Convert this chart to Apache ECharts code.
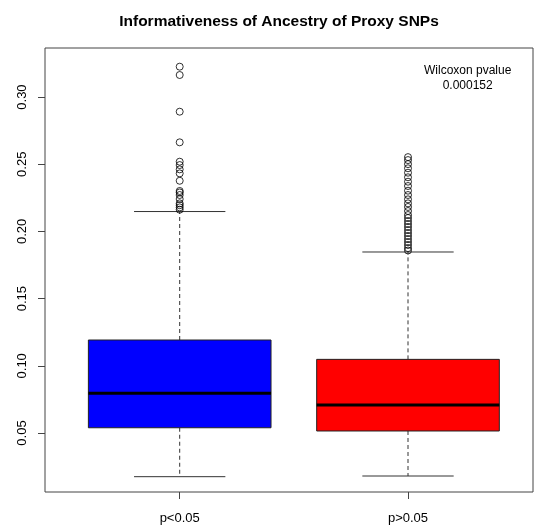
<!DOCTYPE html>
<html>
<head>
    <meta charset="utf-8">
    <script src="https://cdn.jsdelivr.net/npm/echarts@6/dist/echarts.min.js"></script>
    <style>
        html, body { margin: 0; padding: 0; background: #fff; }
        #main { width: 535px; height: 530px; }
    </style>
</head>
<body>
<div id="main"></div>
<script type="text/javascript">
    // groups and box statistics: [lower whisker, Q1, median, Q3, upper whisker]
    var categories = ['p<0.05', 'p>0.05'];
    var boxStats = [
        [0.0175, 0.0539, 0.0795, 0.1192, 0.2148],
        [0.0180, 0.0515, 0.0708, 0.1048, 0.1847]
    ];
    var boxColors = ['#0000ff', '#ff0000'];

    // outliers
    var outliers1 = [0.3226, 0.3164, 0.2891, 0.2663, 0.2519, 0.2494, 0.2462, 0.2432,
        0.2377, 0.2301, 0.2290, 0.2271, 0.2241, 0.2209, 0.2195, 0.2179, 0.2162];
    var outliers2 = [0.2553, 0.2531, 0.2501, 0.2470, 0.2437, 0.2403, 0.2370, 0.2338,
        0.2303, 0.2271, 0.2239, 0.2209, 0.2182, 0.2152, 0.2122, 0.2100, 0.2077,
        0.2055, 0.2033, 0.2010, 0.1988, 0.1966, 0.1943, 0.1921, 0.1899, 0.1876, 0.1858];

    var yTicks = [0.05, 0.10, 0.15, 0.20, 0.25, 0.30];
    var pvalueText = 'Wilcoxon pvalue\n0.000152';

    var myChart = echarts.init(document.getElementById('main'));

    var boxData = [];
    for (var i = 0; i < boxStats.length; i++) {
        boxData.push([i + 1].concat(boxStats[i]));
    }
    var outlierData = [];
    outliers1.forEach(function (v) { outlierData.push([1, v]); });
    outliers2.forEach(function (v) { outlierData.push([2, v]); });

    function renderBox(params, api) {
        var x = api.value(0);
        var lo = api.coord([x, api.value(1)]);
        var q1 = api.coord([x, api.value(2)]);
        var med = api.coord([x, api.value(3)]);
        var q3 = api.coord([x, api.value(4)]);
        var hi = api.coord([x, api.value(5)]);
        var half = api.size([0.4, 0])[0];
        var cx = lo[0];
        var dash = {stroke: '#333', lineWidth: 1, lineDash: [4, 3]};
        var solid = {stroke: '#333', lineWidth: 1};
        return {
            type: 'group',
            children: [
                {type: 'line', shape: {x1: cx, y1: q1[1], x2: cx, y2: lo[1]}, style: dash},
                {type: 'line', shape: {x1: cx, y1: q3[1], x2: cx, y2: hi[1]}, style: dash},
                {type: 'line', shape: {x1: cx - half / 2, y1: lo[1], x2: cx + half / 2, y2: lo[1]}, style: solid},
                {type: 'line', shape: {x1: cx - half / 2, y1: hi[1], x2: cx + half / 2, y2: hi[1]}, style: solid},
                {type: 'rect', shape: {x: cx - half, y: q3[1], width: half * 2, height: q1[1] - q3[1]},
                    style: {fill: boxColors[params.dataIndex], stroke: '#222', lineWidth: 1}},
                {type: 'line', shape: {x1: cx - half, y1: med[1], x2: cx + half, y2: med[1]},
                    style: {stroke: '#000', lineWidth: 3}}
            ]
        };
    }

    var option = {
        animation: false,
        backgroundColor: '#fff',
        textStyle: {fontFamily: 'Liberation Sans'},
        title: {
            text: 'Informativeness of Ancestry of Proxy SNPs',
            left: 274,
            textAlign: 'center',
            top: 9,
            textStyle: {fontSize: 15.5, fontWeight: 'bold', color: '#000', fontFamily: 'Liberation Sans'}
        },
        graphic: [{
            type: 'text',
            left: 424,
            top: 63,
            style: {
                text: pvalueText,
                textAlign: 'center',
                fill: '#000',
                font: '12px "Liberation Sans"',
                lineHeight: 15
            }
        }],
        grid: {
            left: 45,
            right: 2,
            top: 48,
            bottom: 38,
            show: true,
            borderColor: '#444',
            borderWidth: 1,
            backgroundColor: 'transparent'
        },
        xAxis: {
            type: 'value',
            min: 0.41,
            max: 2.5475,
            axisLine: {show: false},
            splitLine: {show: false},
            axisTick: {show: true, length: 7, customValues: [1, 2], lineStyle: {color: '#444'}},
            axisLabel: {
                customValues: [1, 2],
                margin: 20,
                fontSize: 13,
                color: '#000',
                formatter: function (v) { return categories[Math.round(v) - 1]; }
            }
        },
        yAxis: {
            type: 'value',
            min: 0.0061,
            max: 0.3365,
            axisLine: {show: false},
            splitLine: {show: false},
            axisTick: {show: true, length: 7, customValues: yTicks, lineStyle: {color: '#444'}},
            axisLabel: {
                customValues: yTicks,
                rotate: 90,
                margin: 16,
                fontSize: 13,
                color: '#000',
                formatter: function (v) { return v.toFixed(2); }
            }
        },
        series: [
            {
                type: 'custom',
                renderItem: renderBox,
                encode: {x: 0, y: [1, 2, 3, 4, 5]},
                data: boxData,
                z: 2
            },
            {
                type: 'scatter',
                symbol: 'circle',
                symbolSize: 7,
                itemStyle: {color: 'transparent', borderColor: '#000', borderWidth: 1},
                data: outlierData,
                z: 3
            }
        ]
    };

    myChart.setOption(option);
</script>
</body>
</html>
